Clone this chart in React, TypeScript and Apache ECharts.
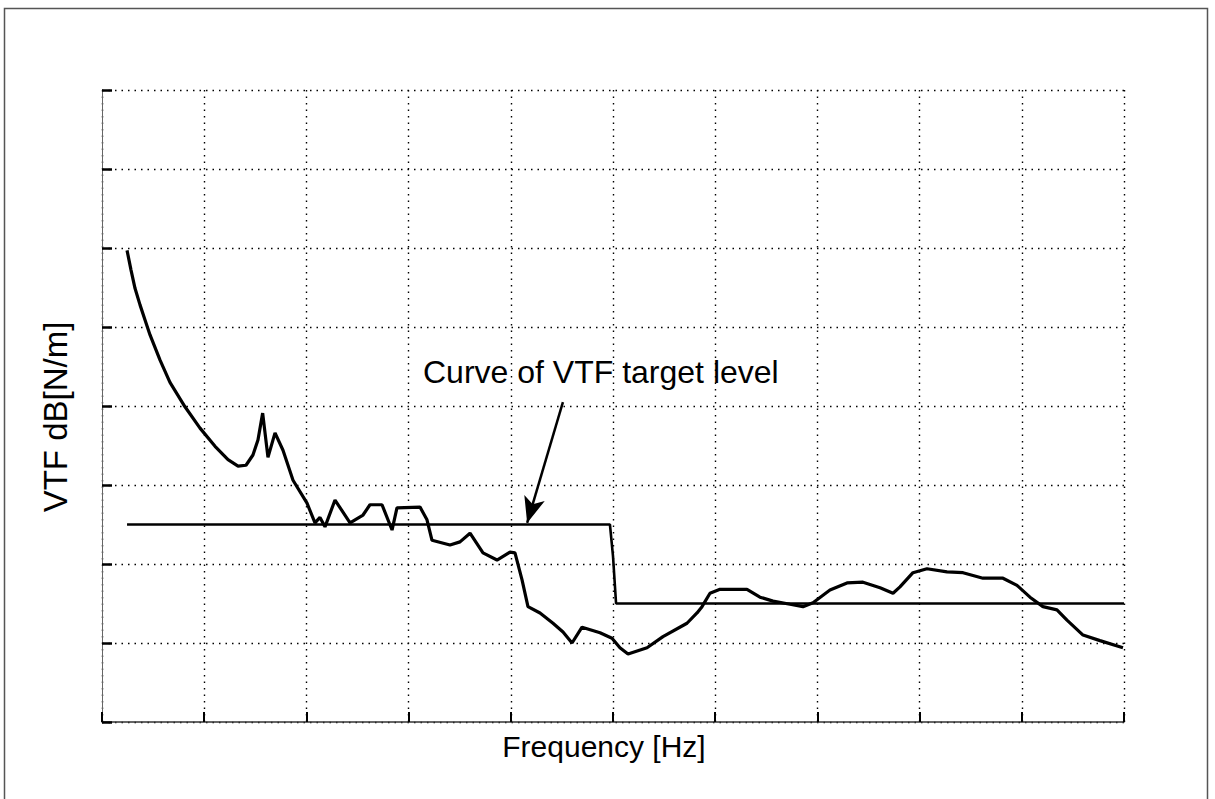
import React, { useEffect, useRef } from "react";
import * as echarts from "echarts";

// x in grid units (0..10), y in grid units (0..8)
const vtfX = [0.245, 0.284, 0.323, 0.372, 0.421, 0.47, 0.568, 0.665, 0.812, 0.959, 1.106, 1.233, 1.331, 1.409, 1.477, 1.526, 1.572, 1.624, 1.693, 1.771, 1.869, 2.006, 2.084, 2.133, 2.182, 2.28, 2.427, 2.554, 2.622, 2.74, 2.838, 2.886, 3.112, 3.18, 3.229, 3.405, 3.503, 3.601, 3.728, 3.865, 3.992, 4.041, 4.11, 4.168, 4.286, 4.413, 4.511, 4.599, 4.697, 4.873, 4.99, 5.068, 5.147, 5.333, 5.489, 5.724, 5.822, 5.871, 5.949, 6.047, 6.311, 6.438, 6.566, 6.732, 6.859, 6.957, 7.123, 7.29, 7.446, 7.613, 7.74, 7.808, 7.935, 8.072, 8.268, 8.425, 8.62, 8.816, 8.953, 9.08, 9.207, 9.344, 9.442, 9.599, 9.765, 9.99];
const vtfY = [5.97, 5.72, 5.49, 5.28, 5.09, 4.9, 4.58, 4.3, 3.99, 3.72, 3.49, 3.32, 3.24, 3.25, 3.38, 3.57, 3.91, 3.35, 3.66, 3.44, 3.06, 2.77, 2.52, 2.59, 2.47, 2.81, 2.52, 2.62, 2.75, 2.75, 2.43, 2.71, 2.72, 2.56, 2.3, 2.24, 2.28, 2.39, 2.14, 2.05, 2.15, 2.14, 1.8, 1.46, 1.38, 1.25, 1.14, 1.0, 1.2, 1.13, 1.06, 0.94, 0.86, 0.94, 1.08, 1.25, 1.38, 1.46, 1.63, 1.68, 1.68, 1.58, 1.53, 1.49, 1.46, 1.51, 1.67, 1.76, 1.77, 1.7, 1.63, 1.71, 1.89, 1.94, 1.9, 1.89, 1.82, 1.82, 1.73, 1.58, 1.46, 1.42, 1.29, 1.1, 1.03, 0.94];

const targetX = [0.245, 4.97, 5.0, 5.03, 10];
const targetY = [2.5, 2.5, 2.1, 1.5, 1.5];

const arrowFrom = [4.51, 4.05];
const arrowTo = [4.16, 2.52];

const annotationText = "Curve of VTF target level";
const xTitle = "Frequency [Hz]";
const yTitle = "VTF dB[N/m]";

const FONT = "Liberation Sans, Arial, sans-serif";

export default function App() {
  const ref = useRef<HTMLDivElement>(null);
  useEffect(() => {
    if (!ref.current) return;
    const chart = echarts.init(ref.current, null, { renderer: "svg" });
    const split = { show: true, lineStyle: { color: "#000", width: 1.4, type: [1.5, 5] as any } };
    chart.setOption({
      animation: false,
      backgroundColor: "#fff",
      grid: { left: 102, top: 90, right: 91, bottom: 77, containLabel: false },
      xAxis: {
        type: "value",
        min: 0,
        max: 10,
        interval: 1,
        name: xTitle,
        nameLocation: "middle",
        nameGap: 9,
        nameTextStyle: { fontFamily: FONT, fontSize: 30, color: "#000", padding: [0, 18, 0, 0] },
        axisLine: { show: true, lineStyle: { color: "#333", width: 1.5 } },
        axisTick: { show: true, inside: true, length: 10, lineStyle: { color: "#000", width: 2 } },
        axisLabel: { show: false },
        splitLine: split,
      },
      yAxis: {
        type: "value",
        min: 0,
        max: 8,
        interval: 1,
        name: yTitle,
        nameLocation: "middle",
        nameGap: 30,
        nameTextStyle: { fontFamily: FONT, fontSize: 33, color: "#000", padding: [0, 22, 0, 0] },
        axisLine: { show: true, lineStyle: { color: "#666", width: 1 } },
        axisTick: { show: true, inside: true, length: 10, lineStyle: { color: "#000", width: 2.5 } },
        axisLabel: { show: false },
        splitLine: split,
      },
      graphic: [
        {
          type: "rect",
          shape: { x: 4.5, y: 8.5, width: 1203, height: 900 },
          style: { fill: "none", stroke: "#555", lineWidth: 1.5 },
          silent: true,
        },
        {
          type: "text",
          left: 423,
          top: 356,
          style: { text: annotationText, fontFamily: FONT, fontSize: 32, fill: "#000" },
        },
      ],
      series: [
        {
          type: "line",
          name: "VTF",
          data: vtfX.map((x, i) => [x, vtfY[i]]),
          showSymbol: false,
          lineStyle: { color: "#000", width: 3.2 },
          z: 3,
        },
        {
          type: "line",
          name: "Target",
          data: targetX.map((x, i) => [x, targetY[i]]),
          showSymbol: false,
          lineStyle: { color: "#000", width: 2.6 },
          z: 2,
          markLine: {
            silent: true,
            symbol: ["none", "arrow"],
            symbolSize: [16, 26],
            label: { show: false },
            lineStyle: { color: "#000", width: 2.5, type: "solid" },
            data: [[{ coord: arrowFrom }, { coord: arrowTo }]],
          },
        },
      ],
    });
    return () => chart.dispose();
  }, []);
  return (
    <div
      ref={ref}
      style={{ position: "absolute", left: 0, top: 0, width: 1215, height: 799 }}
    />
  );
}
